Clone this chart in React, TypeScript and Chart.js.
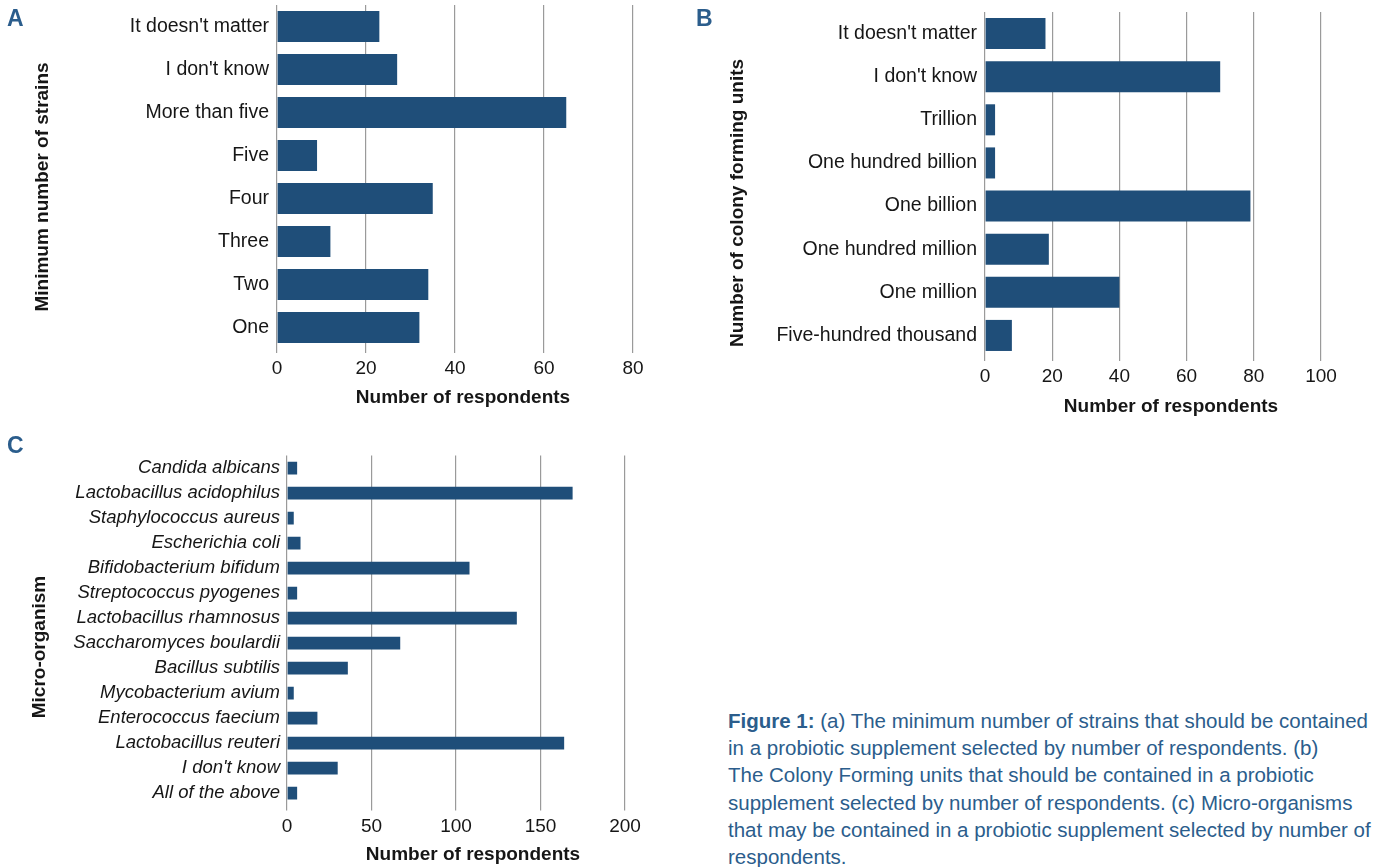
import React, { useEffect, useRef } from 'react';
import { Chart, registerables } from 'chart.js';

Chart.register(...registerables);

const FONT = '"Liberation Sans", Arial, Helvetica, sans-serif';
const BAR_COLOR = '#1f4e79';
const GRID_COLOR = '#9a9a9a';
const TEXT_COLOR = '#161616';
const BLUE_TEXT = '#2b5d8c';

// ---------- Data ----------
const strainLabels = ["It doesn't matter", "I don't know", 'More than five', 'Five', 'Four', 'Three', 'Two', 'One'];
const strainValues = [23, 27, 65, 9, 35, 12, 34, 32];
const strainTicks = [0, 20, 40, 60, 80];

const cfuLabels = [
  "It doesn't matter",
  "I don't know",
  'Trillion',
  'One hundred billion',
  'One billion',
  'One hundred million',
  'One million',
  'Five-hundred thousand',
];
const cfuValues = [18, 70, 3, 3, 79, 19, 40, 8];
const cfuTicks = [0, 20, 40, 60, 80, 100];

const microLabels = [
  'Candida albicans',
  'Lactobacillus acidophilus',
  'Staphylococcus aureus',
  'Escherichia coli',
  'Bifidobacterium bifidum',
  'Streptococcus pyogenes',
  'Lactobacillus rhamnosus',
  'Saccharomyces boulardii',
  'Bacillus subtilis',
  'Mycobacterium avium',
  'Enterococcus faecium',
  'Lactobacillus reuteri',
  "I don't know",
  'All of the above',
];
const microValues = [6, 169, 4, 8, 108, 6, 136, 67, 36, 4, 18, 164, 30, 6];
const microTicks = [0, 50, 100, 150, 200];

const xTitle = 'Number of respondents';
const strainTitle = 'Minimum number of strains';
const cfuTitle = 'Number of colony forming units';
const microTitle = 'Micro-organism';

// ---------- Title plugin ----------
const axisTitlesPlugin = {
  id: 'axisTitles',
  afterDraw(chart: any, _args: any, opts: any) {
    const ctx = chart.ctx;
    ctx.save();
    ctx.fillStyle = TEXT_COLOR;
    ctx.font = `bold ${opts.size}px ${FONT}`;
    ctx.textAlign = 'center';
    ctx.textBaseline = 'middle';
    ctx.fillText(opts.xText, opts.xPos[0], opts.xPos[1]);
    ctx.translate(opts.yPos[0], opts.yPos[1]);
    ctx.rotate(-Math.PI / 2);
    ctx.fillText(opts.yText, 0, 0);
    ctx.restore();
  },
};

type Spec = {
  left: number;
  top: number;
  width: number;
  height: number;
  labels: string[];
  values: number[];
  ticks: number[];
  yText: string;
  yWidth: number;
  xHeight: number;
  padTop: number;
  padRight: number;
  barPct: number;
  tickLen: number;
  xTickPad: number;
  yTickPad: number;
  labelSize: number;
  labelStyle: 'normal' | 'italic';
  yTitlePos: [number, number];
  xTitlePos: [number, number];
};

function BarPanel({ spec }: { spec: Spec }) {
  const ref = useRef<HTMLCanvasElement>(null);
  useEffect(() => {
    const t = spec.ticks;
    const chart = new Chart(ref.current as HTMLCanvasElement, {
      type: 'bar',
      data: {
        labels: spec.labels,
        datasets: [
          {
            data: spec.values,
            backgroundColor: BAR_COLOR,
            borderWidth: 0,
            barPercentage: spec.barPct,
            categoryPercentage: 1,
          },
        ],
      },
      options: {
        indexAxis: 'y',
        responsive: false,
        animation: false,
        devicePixelRatio: 1,
        layout: { padding: { top: spec.padTop, right: spec.padRight, left: 0, bottom: 0 } },
        plugins: {
          legend: { display: false },
          tooltip: { enabled: false },
          axisTitles: {
            size: 19,
            xText: xTitle,
            yText: spec.yText,
            xPos: spec.xTitlePos,
            yPos: spec.yTitlePos,
          },
        } as any,
        scales: {
          x: {
            type: 'linear',
            min: t[0],
            max: t[t.length - 1],
            grid: {
              color: GRID_COLOR,
              lineWidth: 1.2,
              drawTicks: true,
              tickLength: spec.tickLen,
              tickColor: GRID_COLOR,
            },
            border: { display: false },
            ticks: {
              stepSize: t[1] - t[0],
              font: { family: FONT, size: 19 },
              color: TEXT_COLOR,
              padding: spec.xTickPad,
            },
            afterFit: (s: any) => {
              s.height = spec.xHeight;
              s.paddingLeft = 0;
              s.paddingRight = 0;
            },
          },
          y: {
            grid: { display: false, drawTicks: false, tickLength: 0 },
            border: { display: false },
            ticks: {
              autoSkip: false,
              font: { family: FONT, size: spec.labelSize, style: spec.labelStyle },
              color: TEXT_COLOR,
              padding: spec.yTickPad,
            },
            afterFit: (s: any) => {
              s.width = spec.yWidth;
              s.paddingTop = 0;
              s.paddingBottom = 0;
            },
          },
        },
      } as any,
      plugins: [axisTitlesPlugin],
    });
    return () => chart.destroy();
  }, []);
  return (
    <canvas
      ref={ref}
      width={spec.width}
      height={spec.height}
      style={{ position: 'absolute', left: spec.left, top: spec.top, width: spec.width, height: spec.height }}
    />
  );
}

const specA: Spec = {
  left: 0,
  top: 0,
  width: 690,
  height: 420,
  labels: strainLabels,
  values: strainValues,
  ticks: strainTicks,
  yText: strainTitle,
  yWidth: 277,
  xHeight: 71,
  padTop: 5,
  padRight: 57,
  barPct: 0.72,
  tickLen: 4,
  xTickPad: 4,
  yTickPad: 8,
  labelSize: 19.5,
  labelStyle: 'normal',
  yTitlePos: [43, 187],
  xTitlePos: [463, 398],
};

const specB: Spec = {
  left: 690,
  top: 0,
  width: 699,
  height: 430,
  labels: cfuLabels,
  values: cfuValues,
  ticks: cfuTicks,
  yText: cfuTitle,
  yWidth: 295,
  xHeight: 73,
  padTop: 12,
  padRight: 68,
  barPct: 0.72,
  tickLen: 4,
  xTickPad: 4,
  yTickPad: 8,
  labelSize: 19.5,
  labelStyle: 'normal',
  yTitlePos: [48, 203],
  xTitlePos: [481, 407],
};

const specC: Spec = {
  left: 0,
  top: 430,
  width: 690,
  height: 437,
  labels: microLabels,
  values: microValues,
  ticks: microTicks,
  yText: microTitle,
  yWidth: 287,
  xHeight: 61.5,
  padTop: 25.5,
  padRight: 65,
  barPct: 0.51,
  tickLen: 5,
  xTickPad: 5,
  yTickPad: 7,
  labelSize: 18.5,
  labelStyle: 'italic',
  yTitlePos: [40, 217],
  xTitlePos: [473, 425],
};

const letterStyle: React.CSSProperties = {
  position: 'absolute',
  fontFamily: FONT,
  fontWeight: 'bold',
  fontSize: 23,
  color: BLUE_TEXT,
  lineHeight: '24px',
  margin: 0,
};

export default function App() {
  return (
    <div>
      <BarPanel spec={specA} />
      <BarPanel spec={specB} />
      <BarPanel spec={specC} />
      <div style={{ ...letterStyle, left: 7, top: 6 }}>A</div>
      <div style={{ ...letterStyle, left: 696, top: 6 }}>B</div>
      <div style={{ ...letterStyle, left: 7, top: 433 }}>C</div>
      <div
        style={{
          position: 'absolute',
          left: 728,
          top: 707,
          fontFamily: FONT,
          fontSize: 20.5,
          lineHeight: '27.2px',
          color: BLUE_TEXT,
          whiteSpace: 'nowrap',
        }}
      >
        <b>Figure 1:</b> (a) The minimum number of strains that should be contained
        <br />
        in a probiotic supplement selected by number of respondents. (b)
        <br />
        The Colony Forming units that should be contained in a probiotic
        <br />
        supplement selected by number of respondents. (c) Micro-organisms
        <br />
        that may be contained in a probiotic supplement selected by number of
        <br />
        respondents.
      </div>
    </div>
  );
}
